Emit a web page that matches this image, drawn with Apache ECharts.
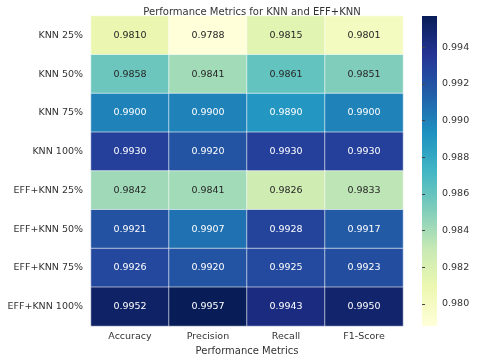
<!DOCTYPE html>
<html>
<head>
<meta charset="utf-8">
<script src="https://cdn.jsdelivr.net/npm/echarts@6/dist/echarts.min.js"></script>
<style>
  html, body { margin: 0; padding: 0; background: #fff; }
  #chart { width: 480px; height: 355px; }
</style>
</head>
<body>
<div id="chart"></div>
<script>
const metrics = ["Accuracy", "Precision", "Recall", "F1-Score"];
const models = ["KNN 25%", "KNN 50%", "KNN 75%", "KNN 100%",
  "EFF+KNN 25%", "EFF+KNN 50%", "EFF+KNN 75%", "EFF+KNN 100%"];
const knn25 = [0.9810, 0.9788, 0.9815, 0.9801];
const knn50 = [0.9858, 0.9841, 0.9861, 0.9851];
const knn75 = [0.9900, 0.9900, 0.9890, 0.9900];
const knn100 = [0.9930, 0.9920, 0.9930, 0.9930];
const eff25 = [0.9842, 0.9841, 0.9826, 0.9833];
const eff50 = [0.9921, 0.9907, 0.9928, 0.9917];
const eff75 = [0.9926, 0.9920, 0.9925, 0.9923];
const eff100 = [0.9952, 0.9957, 0.9943, 0.9950];
const colorbarTicks = [0.980, 0.982, 0.984, 0.986, 0.988, 0.990, 0.992, 0.994];

const rows = [knn25, knn50, knn75, knn100, eff25, eff50, eff75, eff100];
const allVals = rows.flat();
const vMin = Math.min(...allVals);
const vMax = Math.max(...allVals);

// YlGnBu
const ylgnbu = ["#ffffd9", "#edf8b1", "#c7e9b4", "#7fcdbb", "#41b6c4",
  "#1d91c0", "#225ea8", "#253494", "#081d58"];

const cells = [];
rows.forEach((row, r) => {
  row.forEach((v, c) => {
    const t = (v - vMin) / (vMax - vMin);
    cells.push({
      value: [c, r, v],
      label: { color: t < 0.5 ? "#262626" : "#ffffff" },
    });
  });
});

const font = "DejaVu Sans";
const cb = { left: 422, top: 16, width: 15, height: 310 };
const chart = echarts.init(document.getElementById("chart"));

chart.setOption({
  animation: false,
  textStyle: { fontFamily: font },
  title: {
    text: "Performance Metrics for KNN and EFF+KNN",
    left: 247,
    top: 2,
    textAlign: "center",
    textStyle: { fontSize: 10, fontWeight: "normal", color: "#333", fontFamily: font },
  },
  grid: [
    { left: 91, top: 16, width: 312, height: 310, outerBoundsMode: "none" },
    { left: cb.left, top: cb.top, width: cb.width, height: cb.height, outerBoundsMode: "none" },
  ],
  xAxis: [
    {
      type: "category",
      gridIndex: 0,
      data: metrics,
      position: "bottom",
      name: "Performance Metrics",
      nameLocation: "middle",
      nameGap: 18,
      nameTextStyle: { fontSize: 10, color: "#333" },
      axisLine: { show: false },
      axisTick: { show: false },
      axisLabel: { fontSize: 9.5, color: "#333", margin: 6 },
      splitLine: { show: false },
    },
    { type: "value", gridIndex: 1, show: false },
  ],
  yAxis: [
    {
      type: "category",
      gridIndex: 0,
      data: models,
      inverse: true,
      axisLine: { show: false },
      axisTick: { show: false },
      axisLabel: { fontSize: 9.5, color: "#333", margin: 8 },
      splitLine: { show: false },
    },
    {
      type: "value",
      gridIndex: 1,
      position: "right",
      min: vMin,
      max: vMax,
      axisLine: { show: false },
      axisTick: {
        show: true,
        length: 3,
        lineStyle: { color: "#444" },
        customValues: colorbarTicks,
      },
      axisLabel: {
        fontSize: 9.5,
        color: "#333",
        margin: 5,
        customValues: colorbarTicks,
        formatter: (v) => v.toFixed(3),
      },
      splitLine: { show: false },
    },
  ],
  visualMap: {
    type: "continuous",
    min: vMin,
    max: vMax,
    seriesIndex: 0,
    show: false,
    inRange: { color: ylgnbu },
  },
  graphic: [
    {
      type: "rect",
      left: cb.left,
      top: cb.top,
      shape: { width: cb.width, height: cb.height },
      style: {
        fill: new echarts.graphic.LinearGradient(0, 1, 0, 0,
          ylgnbu.map((c, i) => ({ offset: i / (ylgnbu.length - 1), color: c }))),
      },
      silent: true,
    },
  ],
  series: [
    {
      type: "heatmap",
      xAxisIndex: 0,
      yAxisIndex: 0,
      data: cells,
      itemStyle: { borderColor: "#ffffff", borderWidth: 0.6 },
      label: {
        show: true,
        fontSize: 9.5,
        fontFamily: font,
        formatter: (p) => p.value[2].toFixed(4),
      },
      emphasis: { disabled: true },
    },
  ],
});
</script>
</body>
</html>
